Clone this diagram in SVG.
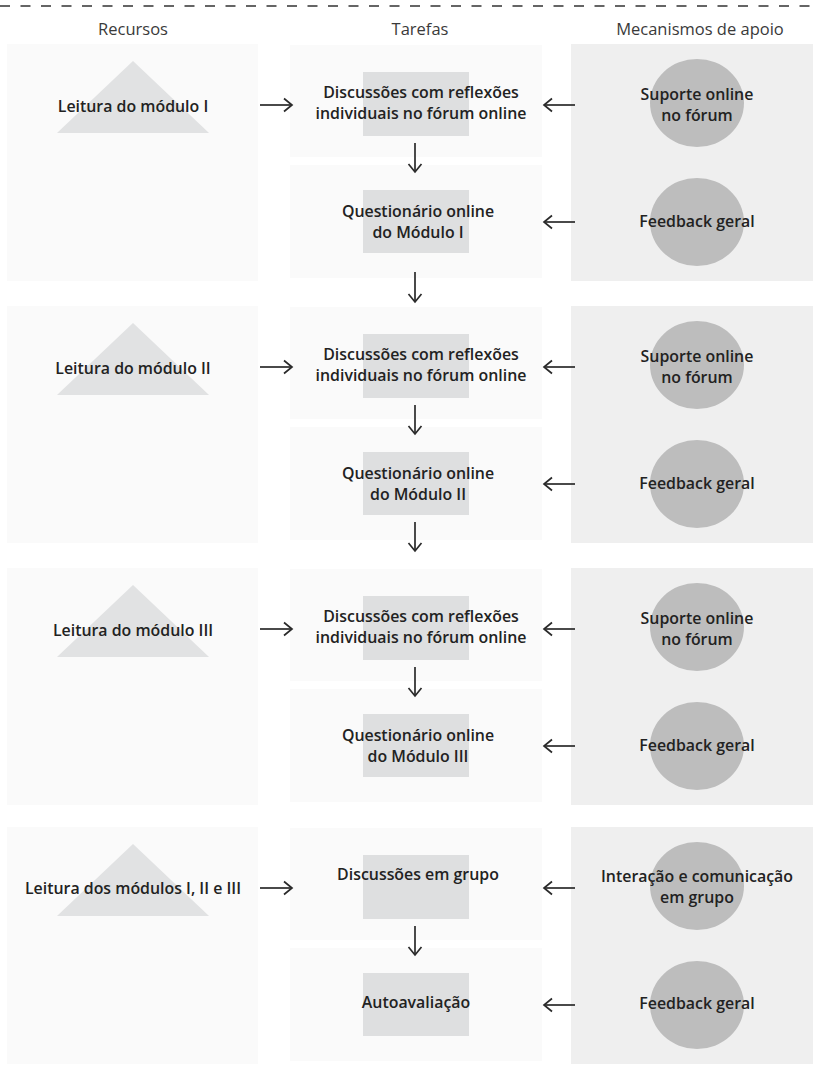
<svg xmlns="http://www.w3.org/2000/svg" width="813" height="1075" viewBox="0 0 813 1075">
<defs>
<style>
.bg{fill:#ffffff}
.pl{fill:#fafafa}
.pr{fill:#efefef}
.tri{fill:#e1e2e3}
.sq{fill:#dedfe0}
.cir{fill:#bdbdbd}
.hd{font-family:"Open Sans","Liberation Sans",sans-serif;font-size:16.5px;fill:#3a3a3a;text-anchor:middle}
.lb{font-family:"Open Sans","Liberation Sans",sans-serif;font-weight:600;font-size:15.9px;fill:#222;text-anchor:middle}
.ar{stroke:#2a2a2a;stroke-width:1.7;fill:none;marker-end:url(#ah)}
</style>
<marker id="ah" markerUnits="userSpaceOnUse" viewBox="-10 -8 12 16" refX="0" refY="0" markerWidth="12" markerHeight="16" orient="auto">
<path d="M-8,-6.5 L0,0 L-8,6.5" fill="none" stroke="#2a2a2a" stroke-width="1.7"/>
</marker>
</defs>
<rect class="bg" x="0" y="0" width="813" height="1075"/>
<line x1="0" y1="6" x2="813" y2="6" stroke="#333" stroke-width="1.5" stroke-dasharray="10 10.5"/>
<g id="headers">
<text class="hd" x="133" y="35">Recursos</text>
<text class="hd" x="420" y="35">Tarefas</text>
<text class="hd" x="700" y="35">Mecanismos de apoio</text>
</g>

<g id="section1">
<g id="res1"><rect class="pl" x="7" y="44" width="251" height="237"/><polygon class="tri" points="133,61 57,133 209,133"/><text class="lb" x="133" y="112">Leitura do módulo I</text></g>
<g id="task1a"><rect class="pl" x="290" y="45" width="252" height="112"/><rect class="sq" x="363" y="72" width="106" height="64"/><text class="lb" x="421" y="98">Discussões com reflexões</text><text class="lb" x="421" y="119">individuais no fórum online</text></g>
<g id="task1b"><rect class="pl" x="290" y="165" width="252" height="113"/><rect class="sq" x="363" y="190" width="106" height="63"/><text class="lb" x="418" y="217">Questionário online</text><text class="lb" x="418" y="238">do Módulo I</text></g>
<g id="sup1"><rect class="pr" x="571" y="44" width="242" height="237"/><ellipse class="cir" cx="697" cy="103" rx="47" ry="44"/><text class="lb" x="697" y="100">Suporte online</text><text class="lb" x="697" y="121">no fórum</text><ellipse class="cir" cx="697" cy="222" rx="47" ry="44"/><text class="lb" x="697" y="227">Feedback geral</text></g>
</g>

<g id="section2" transform="translate(0,262)">
<g id="res2"><rect class="pl" x="7" y="44" width="251" height="237"/><polygon class="tri" points="133,61 57,133 209,133"/><text class="lb" x="133" y="112">Leitura do módulo II</text></g>
<g id="task2a"><rect class="pl" x="290" y="45" width="252" height="112"/><rect class="sq" x="363" y="72" width="106" height="64"/><text class="lb" x="421" y="98">Discussões com reflexões</text><text class="lb" x="421" y="119">individuais no fórum online</text></g>
<g id="task2b"><rect class="pl" x="290" y="165" width="252" height="113"/><rect class="sq" x="363" y="190" width="106" height="63"/><text class="lb" x="418" y="217">Questionário online</text><text class="lb" x="418" y="238">do Módulo II</text></g>
<g id="sup2"><rect class="pr" x="571" y="44" width="242" height="237"/><ellipse class="cir" cx="697" cy="103" rx="47" ry="44"/><text class="lb" x="697" y="100">Suporte online</text><text class="lb" x="697" y="121">no fórum</text><ellipse class="cir" cx="697" cy="222" rx="47" ry="44"/><text class="lb" x="697" y="227">Feedback geral</text></g>
</g>

<g id="section3" transform="translate(0,524)">
<g id="res3"><rect class="pl" x="7" y="44" width="251" height="237"/><polygon class="tri" points="133,61 57,133 209,133"/><text class="lb" x="133" y="112">Leitura do módulo III</text></g>
<g id="task3a"><rect class="pl" x="290" y="45" width="252" height="112"/><rect class="sq" x="363" y="72" width="106" height="64"/><text class="lb" x="421" y="98">Discussões com reflexões</text><text class="lb" x="421" y="119">individuais no fórum online</text></g>
<g id="task3b"><rect class="pl" x="290" y="165" width="252" height="113"/><rect class="sq" x="363" y="190" width="106" height="63"/><text class="lb" x="418" y="217">Questionário online</text><text class="lb" x="418" y="238">do Módulo III</text></g>
<g id="sup3"><rect class="pr" x="571" y="44" width="242" height="237"/><ellipse class="cir" cx="697" cy="103" rx="47" ry="44"/><text class="lb" x="697" y="100">Suporte online</text><text class="lb" x="697" y="121">no fórum</text><ellipse class="cir" cx="697" cy="222" rx="47" ry="44"/><text class="lb" x="697" y="227">Feedback geral</text></g>
</g>

<g id="section4" transform="translate(0,783)">
<g id="res4"><rect class="pl" x="7" y="44" width="251" height="237"/><polygon class="tri" points="133,61 57,133 209,133"/><text class="lb" x="133" y="111">Leitura dos módulos I, II e III</text></g>
<g id="task4a"><rect class="pl" x="290" y="45" width="252" height="112"/><rect class="sq" x="363" y="72" width="106" height="64"/><text class="lb" x="418" y="97">Discussões em grupo</text></g>
<g id="task4b"><rect class="pl" x="290" y="165" width="252" height="113"/><rect class="sq" x="363" y="190" width="106" height="63"/><text class="lb" x="416" y="225">Autoavaliação</text></g>
<g id="sup4"><rect class="pr" x="571" y="44" width="242" height="237"/><ellipse class="cir" cx="697" cy="103" rx="47" ry="44"/><text class="lb" x="697" y="99">Interação e comunicação</text><text class="lb" x="697" y="120">em grupo</text><ellipse class="cir" cx="697" cy="222" rx="47" ry="44"/><text class="lb" x="697" y="226">Feedback geral</text></g>
</g>

<g id="connectors">
<line class="ar" x1="260" y1="105" x2="292" y2="105"/>
<line class="ar" x1="575" y1="105" x2="544" y2="105"/>
<line class="ar" x1="575" y1="222" x2="544" y2="222"/>
<line class="ar" x1="415" y1="143" x2="415" y2="172"/>
<line class="ar" x1="415" y1="272" x2="415" y2="302"/>
<line class="ar" x1="260" y1="367" x2="292" y2="367"/>
<line class="ar" x1="575" y1="367" x2="544" y2="367"/>
<line class="ar" x1="575" y1="484" x2="544" y2="484"/>
<line class="ar" x1="415" y1="405" x2="415" y2="434"/>
<line class="ar" x1="415" y1="522" x2="415" y2="551"/>
<line class="ar" x1="260" y1="629" x2="292" y2="629"/>
<line class="ar" x1="575" y1="629" x2="544" y2="629"/>
<line class="ar" x1="575" y1="746" x2="544" y2="746"/>
<line class="ar" x1="415" y1="667" x2="415" y2="696"/>
<line class="ar" x1="260" y1="888" x2="292" y2="888"/>
<line class="ar" x1="575" y1="888" x2="544" y2="888"/>
<line class="ar" x1="575" y1="1005" x2="544" y2="1005"/>
<line class="ar" x1="415" y1="926" x2="415" y2="955"/>
</g>
</svg>
